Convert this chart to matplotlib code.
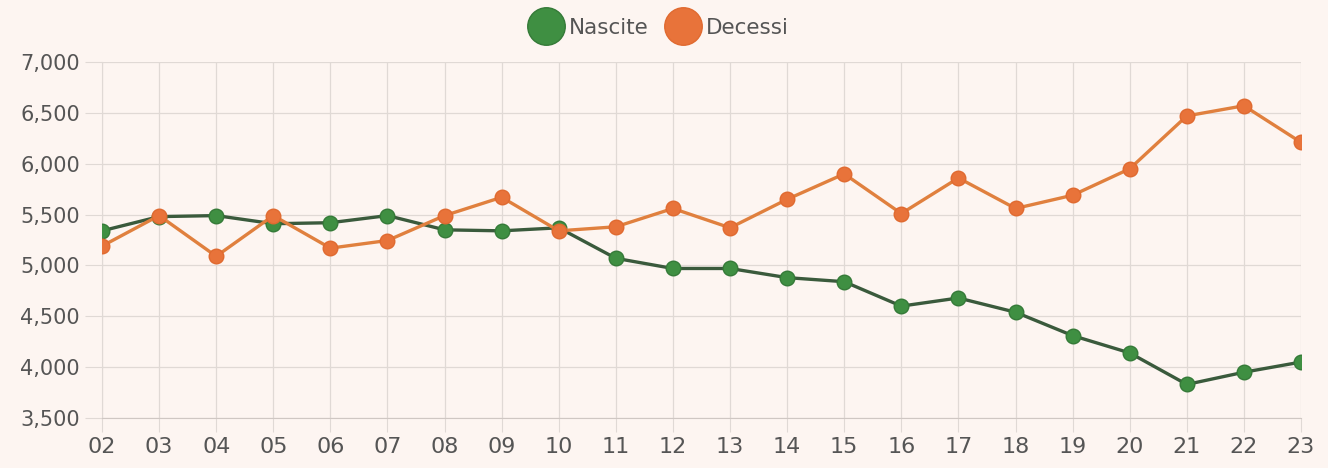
import matplotlib
matplotlib.use("Agg")
import matplotlib.pyplot as plt
from matplotlib.lines import Line2D
from matplotlib.ticker import FuncFormatter

years = ["02", "03", "04", "05", "06", "07", "08", "09", "10", "11", "12",
         "13", "14", "15", "16", "17", "18", "19", "20", "21", "22", "23"]
nascite = [5340, 5480, 5490, 5410, 5420, 5490, 5350, 5340, 5370, 5070, 4970,
           4970, 4880, 4840, 4600, 4680, 4540, 4310, 4140, 3830, 3950, 4050]
decessi = [5190, 5490, 5090, 5490, 5170, 5245, 5490, 5670, 5340, 5380, 5560,
           5370, 5650, 5900, 5510, 5860, 5560, 5690, 5950, 6470, 6570, 6210]
y_ticks = [3500, 4000, 4500, 5000, 5500, 6000, 6500, 7000]

bg = "#fdf5f1"
grid_c = "#e0d9d5"
green = "#3f8f42"
green_line = "#3a5a3c"
orange = "#e8733a"
orange_line = "#e0803e"
text_c = "#555555"

plt.rcParams['font.family'] = ['DejaVu Sans']

fig = plt.figure(figsize=(13.28, 4.68), dpi=100, facecolor=bg)
ax = fig.add_axes([102/1328, 1-418/468, (1301-102)/1328, (418-62)/468])
ax.set_facecolor(bg)

x = list(range(len(years)))
ax.plot(x, nascite, color=green_line, lw=2.4, marker='o', ms=10.5,
        mfc=green, mec="#357a38", mew=1, zorder=3)
ax.plot(x, decessi, color=orange_line, lw=2.4, marker='o', ms=10.5,
        mfc=orange, mec="#e06a30", mew=1, zorder=3)

ax.set_xlim(0, len(years)-1)
ax.set_ylim(3500, 7000)
ax.set_xticks(x)
ax.set_xticklabels(years)
ax.set_yticks(y_ticks)
ax.yaxis.set_major_formatter(FuncFormatter(lambda v, p: f"{int(v):,}"))
ax.grid(True, color=grid_c, lw=0.9)
ax.set_axisbelow(True)
for s in ax.spines.values():
    s.set_visible(False)
ax.spines['left'].set_visible(True)
ax.spines['left'].set_color(grid_c)
ax.spines['bottom'].set_visible(True)
ax.spines['bottom'].set_color("#cfc7c3")
ax.tick_params(axis='y', length=12, color=grid_c, labelsize=15, labelcolor=text_c, pad=4)
ax.tick_params(axis='x', length=10, color=grid_c, labelsize=16, labelcolor=text_c, pad=4)

handles = [Line2D([], [], ls='none', marker='o', ms=27, mfc=green, mec="#357a38"),
           Line2D([], [], ls='none', marker='o', ms=27, mfc=orange, mec="#e06a30")]
fig.legend(handles, ["Nascite", "Decessi"], loc='center', ncol=2,
           bbox_to_anchor=(0.497, 1-28/468), frameon=False, fontsize=15.5,
           labelcolor=text_c, handletextpad=0.35, columnspacing=0.9,
           handlelength=1.4)

fig.savefig("out.png", dpi=100, facecolor=bg)
